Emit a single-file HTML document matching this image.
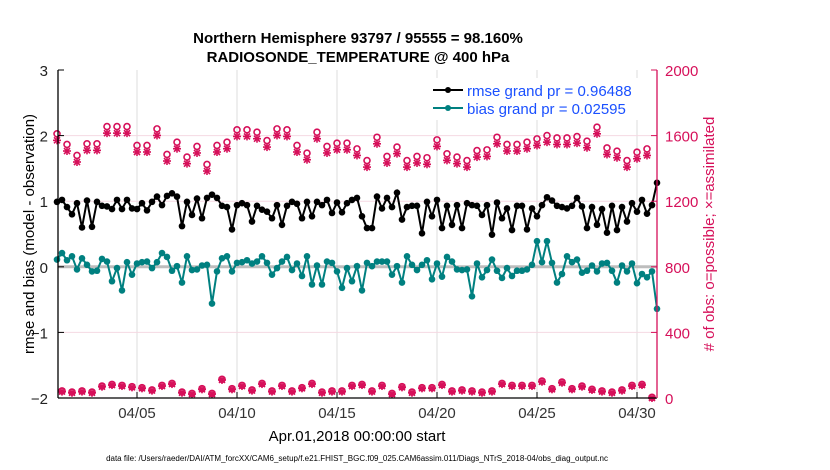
<!DOCTYPE html>
<html><head><meta charset="utf-8"><style>
html,body{margin:0;padding:0;background:#fff;}
svg{display:block;font-family:"Liberation Sans",Arial,sans-serif;}
</style></head><body>
<svg id="chart" width="830" height="470" viewBox="0 0 830 470" xmlns="http://www.w3.org/2000/svg">
<rect x="0" y="0" width="830" height="470" fill="#fff"/>
<text x="358" y="43" text-anchor="middle" font-size="15" font-weight="bold">Northern Hemisphere 93797 / 95555 = 98.160%</text>
<text x="358" y="62" text-anchor="middle" font-size="15" font-weight="bold">RADIOSONDE_TEMPERATURE @ 400 hPa</text>
<g id="grid"></g>
<g id="marks"></g>
<g id="axes"></g>
<text transform="translate(34,234) rotate(-90)" text-anchor="middle" font-size="15">rmse and bias (model - observation)</text>
<text transform="translate(714,234) rotate(-90)" text-anchor="middle" font-size="15" fill="#d6105a"># of obs: o=possible; ×=assimilated</text>
<text x="357" y="441" text-anchor="middle" font-size="15">Apr.01,2018 00:00:00 start</text>
<text x="357" y="461" text-anchor="middle" font-size="8">data file: /Users/raeder/DAI/ATM_forcXX/CAM6_setup/f.e21.FHIST_BGC.f09_025.CAM6assim.011/Diags_NTrS_2018-04/obs_diag_output.nc</text>
<g id="legend">
<rect x="422" y="78" width="233" height="42" fill="#fff"/>
<line x1="433" y1="90" x2="463" y2="90" stroke="#000" stroke-width="2"/>
<circle cx="448" cy="90" r="3" fill="#000"/>
<text x="467" y="96" font-size="15" fill="#1a50ff">rmse grand pr = 0.96488</text>
<line x1="433" y1="108" x2="463" y2="108" stroke="#008080" stroke-width="2"/>
<circle cx="448" cy="108" r="3" fill="#008080"/>
<text x="467" y="114" font-size="15" fill="#1a50ff">bias grand pr = 0.02595</text>
</g>
</svg>
<script>
var rmse=[0.99,1.02,0.91,0.80,0.97,0.60,1.01,0.61,0.99,0.93,0.92,0.88,1.02,0.88,1.02,0.89,0.88,0.97,0.86,0.99,1.07,0.94,1.08,1.12,1.07,0.62,0.99,0.79,1.04,0.74,1.05,1.10,
1.05,0.93,0.91,0.57,0.94,0.97,0.94,0.69,0.93,0.87,0.84,0.74,0.94,0.64,0.93,0.99,0.96,0.74,0.99,0.77,0.99,0.94,1.02,0.82,0.98,0.83,0.97,1.02,1.05,0.77,0.59,
0.59,1.07,0.89,1.05,0.91,1.13,0.72,0.91,0.93,0.93,0.51,0.99,0.77,1.02,0.59,0.93,0.64,0.94,0.59,0.97,0.94,0.93,0.79,0.94,0.49,0.98,0.74,0.89,0.56,0.93,
0.93,0.57,0.89,0.77,0.94,1.06,1.01,0.93,0.91,0.89,0.93,1.05,0.92,0.59,0.91,0.64,0.88,0.52,0.93,0.56,0.91,0.69,0.97,0.84,1.02,0.81,0.94,1.28];
var bias=[0.11,0.21,0.10,0.16,-0.04,0.13,0.03,-0.07,-0.06,0.12,0.08,-0.22,-0.02,-0.36,0.07,-0.12,0.05,0.07,0.08,-0.02,0.07,0.21,0.15,-0.06,0.01,-0.24,0.16,-0.05,-0.04,0.02,0.03,-0.56,
-0.07,0.13,0.16,-0.07,0.06,0.07,0.10,0.05,0.08,0.16,0.06,-0.12,-0.02,0.08,0.15,-0.05,0.05,-0.14,0.16,-0.27,0.02,-0.27,0.08,0.06,-0.07,-0.32,-0.02,-0.22,0.01,-0.36,0.06,
0.01,0.08,0.08,0.08,-0.12,0.01,-0.24,0.16,0.03,-0.05,0.03,0.10,-0.19,0.05,-0.15,0.15,0.08,-0.04,-0.05,-0.04,-0.45,0.05,-0.16,-0.05,0.11,-0.06,-0.17,-0.02,-0.14,-0.06,
-0.06,-0.04,0.03,0.39,0.07,0.39,0.06,-0.24,-0.11,0.16,0.07,0.11,-0.09,-0.06,0.02,-0.07,0.05,0.06,-0.06,-0.24,0.02,-0.07,0.05,-0.25,-0.11,-0.16,-0.07,-0.64];
var assimMain=[1571,1506,1439,1510,1510,1615,1615,1615,1500,1500,1601,1445,1520,1429,1494,1384,
1500,1520,1595,1595,1581,1530,1601,1595,1500,1453,1581,1494,1514,1514,1479,1408,
1550,1433,1490,1408,1433,1425,1534,1449,1429,1408,1469,1473,1550,1506,1506,
1520,1540,1560,1546,1546,1554,1526,1611,1485,1465,1408,1459,1479];
var possMain=[1611,1546,1479,1550,1550,1655,1655,1655,1540,1540,1641,1485,1560,1469,1534,1424,
1540,1560,1635,1635,1621,1570,1641,1635,1540,1493,1621,1534,1554,1554,1519,1448,
1590,1473,1530,1448,1473,1465,1574,1489,1469,1448,1509,1513,1590,1546,1546,
1560,1580,1600,1586,1586,1594,1566,1651,1525,1505,1448,1499,1519];
var assimOff=[39,32,39,32,69,79,73,65,59,45,73,85,32,24,53,24,110,53,73,45,85,39,73,39,59,85,32,39,39,73,
79,39,73,24,65,32,59,59,79,39,45,39,32,39,85,73,73,73,99,53,93,53,69,49,39,32,45,73,79,0];
var possOff=[43,36,43,36,73,83,77,69,63,49,77,89,36,28,57,28,114,57,77,49,89,43,77,43,63,89,36,43,43,77,
83,43,77,28,69,36,63,63,83,43,49,43,36,43,89,77,77,77,103,57,97,57,73,53,43,36,49,77,83,4];
var xTickDays=[4,9,14,19,24,29];
var xTickLabels=["04/05","04/10","04/15","04/20","04/25","04/30"];
var yLeftTicks=[-2,-1,0,1,2,3];
var yRightTicks=[0,400,800,1200,1600,2000];

var NS="http://www.w3.org/2000/svg";
var X0=57,PXD=20,L=58,R=657,T=70,B=398;
function xs(d){return X0+d*PXD;}
function yl(v){return B-(v+2)*(B-T)/5;}
function yr(v){return B-v*(B-T)/2000;}
function mk(tag,attrs,parent){var e=document.createElementNS(NS,tag);for(var k in attrs)e.setAttribute(k,attrs[k]);parent.appendChild(e);return e;}
var grid=document.getElementById('grid'),marks=document.getElementById('marks'),axes=document.getElementById('axes');
var PINK="#d6105a";

xTickDays.forEach(function(d,i){
  var g=mk('line',{x1:xs(d),x2:xs(d),y1:T,y2:B,stroke:"#dcdcdc","stroke-width":1},grid);
  
  
  var t=mk('line',{x1:xs(d),x2:xs(d),y1:B,y2:B-6,stroke:"#000","stroke-width":1},axes);
  
  
  var lb=mk('text',{x:xs(d),y:B+20,"text-anchor":"middle","font-size":15,fill:"#333"},axes);
  lb.textContent=xTickLabels[i];
  
  
});
yRightTicks.forEach(function(v){
  if(v>0&&v<2000){var g=mk('line',{x1:L,x2:R,y1:yr(v),y2:yr(v),stroke:"#f5d9e3","stroke-width":1},grid);
  
  }
  var t=mk('line',{x1:R,x2:R-6,y1:yr(v),y2:yr(v),stroke:PINK,"stroke-width":1},axes);
  
  
  var lb=mk('text',{x:R+8,y:yr(v)+6,"font-size":15,fill:PINK},axes);
  lb.textContent=v;
  
  
});
yLeftTicks.forEach(function(v){
  var t=mk('line',{x1:L,x2:L+6,y1:yl(v),y2:yl(v),stroke:"#000","stroke-width":1},axes);
  
  
  var lb=mk('text',{x:L-10,y:yl(v)+6,"text-anchor":"end","font-size":15,fill:"#222"},axes);
  lb.textContent=v<0?("\u2212"+(-v)):v;
  
  
});
var zl=mk('line',{x1:L,x2:R,y1:yl(0),y2:yl(0),stroke:"#bdbdbd","stroke-width":3},grid);


var la=mk('line',{x1:L,x2:L,y1:T,y2:B,stroke:"#000","stroke-width":1.3},axes);


var ba=mk('line',{x1:L,x2:R,y1:B,y2:B,stroke:"#000","stroke-width":1.3},axes);


var ra=mk('line',{x1:R,x2:R,y1:T,y2:B,stroke:PINK,"stroke-width":1.3},axes);



function star(cx,cy,name){
  var g=mk('g',{stroke:PINK,"stroke-width":1.6},marks);
  
  
  var s=4;
  mk('line',{x1:cx-s,x2:cx+s,y1:cy,y2:cy},g);
  mk('line',{x1:cx,x2:cx,y1:cy-s,y2:cy+s},g);
  mk('line',{x1:cx-3,x2:cx+3,y1:cy-3,y2:cy+3},g);
  mk('line',{x1:cx-3,x2:cx+3,y1:cy+3,y2:cy-3},g);
}
function ring(cx,cy,name){
  var c=mk('circle',{cx:cx,cy:cy,r:3,fill:"none",stroke:PINK,"stroke-width":1.6},marks);
  
  
}
assimMain.forEach(function(v,i){star(xs(i*0.5),yr(v),'assimilated-point');});
possMain.forEach(function(v,i){ring(xs(i*0.5),yr(v),'possible-point');});
assimOff.forEach(function(v,i){star(xs(0.25+i*0.5),yr(v),'assimilated-point-offhour');});
possOff.forEach(function(v,i){ring(xs(0.25+i*0.5),yr(v),'possible-point-offhour');});

function series(arr,color,name){
  var pts=arr.map(function(v,i){return xs(i*0.25)+","+yl(v);}).join(" ");
  var pl=mk('polyline',{points:pts,fill:"none",stroke:color,"stroke-width":2},marks);
  
  
  arr.forEach(function(v,i){
    var c=mk('circle',{cx:xs(i*0.25),cy:yl(v),r:3.3,fill:color},marks);
    
    
  });
}
series(bias,"#008080","bias");
series(rmse,"#000000","rmse");
marks.parentNode.appendChild(document.getElementById('legend'));
</script>
</body></html>
